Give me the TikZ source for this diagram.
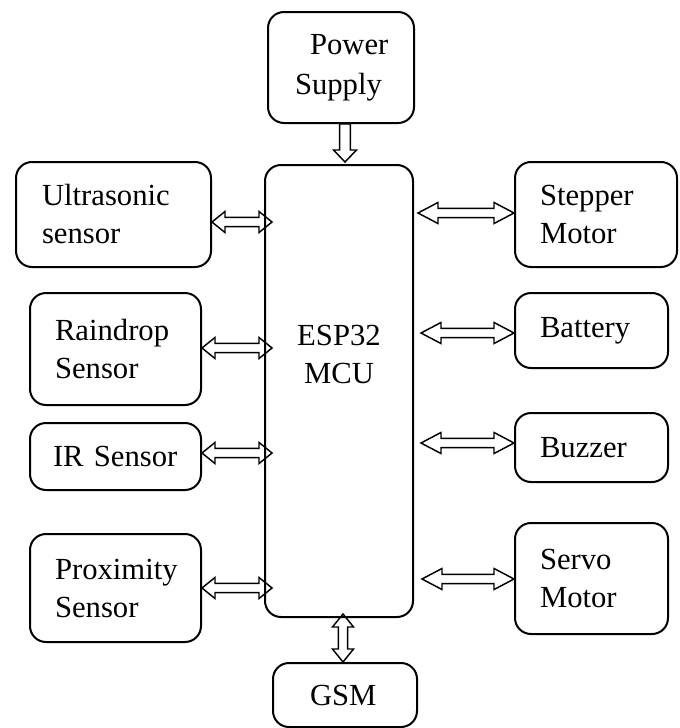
\documentclass[tikz,border=0pt]{standalone}
\usepackage{fontspec}
\setmainfont{Liberation Serif}
\usetikzlibrary{calc}
\newcommand\hwid{7.9pt}
\newcommand\swid{3.4pt}
% horizontal double-headed hollow arrow: #1 left end, #2 right end, #3 head length
\newcommand\hdbl[3]{\draw[arw] let \p1=#1, \p2=#2 in
  (\x1,\y1) -- (\x1+#3,\y1+\hwid) -- (\x1+#3,\y1+\swid) -- (\x2-#3,\y1+\swid)
  -- (\x2-#3,\y1+\hwid) -- (\x2,\y1) -- (\x2-#3,\y1-\hwid) -- (\x2-#3,\y1-\swid)
  -- (\x1+#3,\y1-\swid) -- (\x1+#3,\y1-\hwid) -- cycle;}
% vertical double-headed hollow arrow: #1 top end, #2 bottom end, #3 head length
\newcommand\vdbl[3]{\draw[arw] let \p1=#1, \p2=#2 in
  (\x1,\y1) -- (\x1+\hwid,\y1-#3) -- (\x1+\swid,\y1-#3) -- (\x1+\swid,\y2+#3)
  -- (\x1+\hwid,\y2+#3) -- (\x1,\y2) -- (\x1-\hwid,\y2+#3) -- (\x1-\swid,\y2+#3)
  -- (\x1-\swid,\y1-#3) -- (\x1-\hwid,\y1-#3) -- cycle;}
% vertical single-headed hollow arrow (down): #1 top, #2 tip, #3 head length
\newcommand\vsgl[3]{\draw[arw] let \p1=#1, \p2=#2 in
  (\x1-4.1pt,\y1) -- (\x1+4.1pt,\y1) -- (\x1+4.1pt,\y2+#3) -- (\x1+8.6pt,\y2+#3)
  -- (\x1,\y2) -- (\x1-8.6pt,\y2+#3) -- (\x1-4.1pt,\y2+#3) -- cycle;}
\tikzset{
  box/.style={draw, line width=1.5pt, rounded corners=12pt, align=left,
    inner ysep=0pt, font=\fontsize{23}{28.5}\selectfont},
  arw/.style={draw, line width=1.1pt, line join=miter},
}
\begin{document}
\begin{tikzpicture}[x=0.75pt, y=-0.75pt]
\useasboundingbox (0,0) rectangle (680,728);
% boxes
\node[box, font=\fontsize{23}{30}\selectfont, minimum width=109.5pt, minimum height=83.25pt, inner xsep=20.25pt, text width=69pt]
  (power) at (341,67.5) {\hspace*{11.25pt}Power\\Supply};
\node[box, minimum width=111pt, minimum height=339pt, inner xsep=0pt, text width=111pt]
  (mcu) at (339,391) {};
\node[font=\fontsize{23}{28.5}\selectfont, align=center, inner sep=0pt] (mcutxt) at (339,354) {ESP32\\MCU};
\node[box, minimum width=146.25pt, minimum height=78.75pt, inner xsep=19.5pt, text width=107.25pt]
  (ultra) at (113.5,214.5) {Ultrasonic\\sensor};
\node[box, minimum width=128.25pt, minimum height=84pt, inner xsep=18.75pt, text width=90.75pt]
  (rain) at (115.5,349) {Raindrop\\Sensor};
\node[box, minimum width=128.25pt, minimum height=50.25pt, inner xsep=17.25pt, text width=93.75pt]
  (ir) at (115.5,456.5) {IR Sensor};
\node[box, minimum width=128.25pt, minimum height=81pt, inner xsep=18.75pt, text width=90.75pt]
  (prox) at (115.5,588) {Proximity\\Sensor};
\node[box, minimum width=121.5pt, minimum height=78.75pt, inner xsep=18.75pt, text width=84pt]
  (step) at (596,214.5) {Stepper\\Motor};
\node[box, minimum width=114.75pt, minimum height=56.25pt, inner xsep=18.75pt, text width=77.25pt]
  (batt) at (591.5,330.5) {Battery};
\node[box, minimum width=114.75pt, minimum height=51.75pt, inner xsep=18.75pt, text width=77.25pt]
  (buzz) at (591.5,447.5) {Buzzer};
\node[box, minimum width=114.75pt, minimum height=83.25pt, inner xsep=18.75pt, text width=77.25pt]
  (servo) at (591.5,578.5) {Servo\\Motor};
\node[box, minimum width=108pt, minimum height=48pt, inner xsep=27.75pt, text width=52.5pt]
  (gsm) at (345,695) {GSM};
% arrows
\vsgl{($(power.south)+(4,0)$)}{($(mcu.north)+(6,-2)$)}{9pt}
\vdbl{($(mcu.south)+(4,-4)$)}{($(gsm.north)+(-2,0)$)}{9.75pt}
\hdbl{($(ultra.east)+(0,7.5)$)}{($(mcu.west|-ultra.east)+(8,7.5)$)}{9.75pt}
\hdbl{($(rain.east)+(0,-1)$)}{($(mcu.west|-rain.east)+(8,-1)$)}{9.75pt}
\hdbl{($(ir.east)+(0,-3.5)$)}{($(mcu.west|-ir.east)+(8,-3.5)$)}{9.75pt}
\hdbl{($(prox.east)+(0,0)$)}{($(mcu.west|-prox.east)+(8,0)$)}{9.75pt}
\hdbl{($(mcu.east|-step.west)+(4,-1.5)$)}{($(step.west)+(0,-1.5)$)}{15pt}
\hdbl{($(mcu.east|-batt.west)+(7,2.5)$)}{($(batt.west)+(0,2.5)$)}{15pt}
\hdbl{($(mcu.east|-buzz.west)+(7,-4.5)$)}{($(buzz.west)+(0,-4.5)$)}{15pt}
\hdbl{($(mcu.east|-servo.west)+(8,0.5)$)}{($(servo.west)+(0,0.5)$)}{15pt}
\end{tikzpicture}
\end{document}
